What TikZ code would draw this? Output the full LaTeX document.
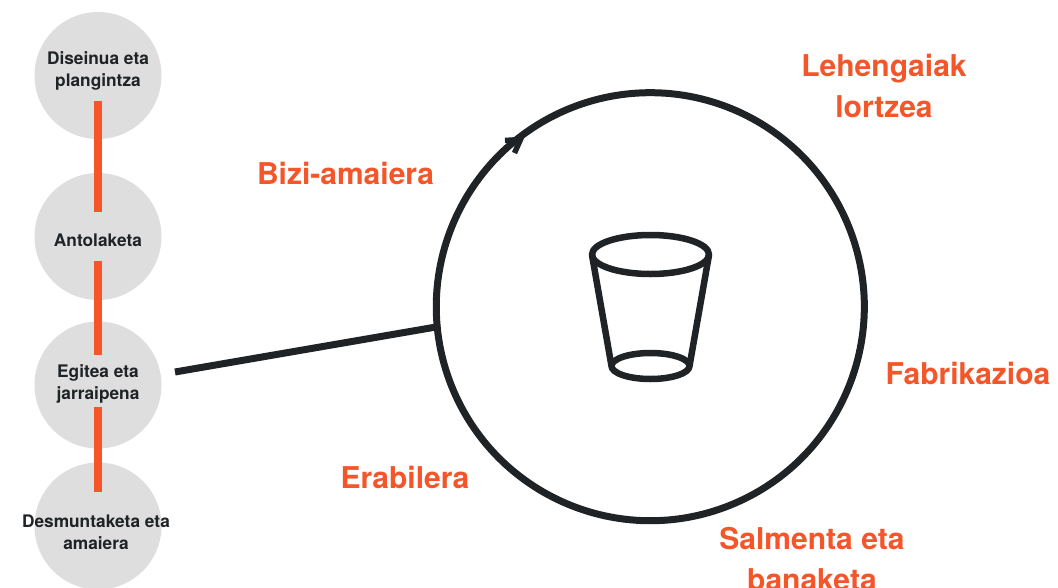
\documentclass[tikz,border=0pt]{standalone}
\usepackage{fontspec}
\setmainfont{TeX Gyre Heros}
\definecolor{ink}{HTML}{1F2326}
\definecolor{orng}{HTML}{F4562A}
\definecolor{disc}{HTML}{DEDEDE}
\tikzset{
  phase/.style={circle,fill=disc,minimum size=127pt,inner sep=0pt},
  phasetext/.style={text=ink,font=\fontsize{17.3}{22}\selectfont\bfseries,align=center,inner sep=0pt},
  stage/.style={text=orng,font=\fontsize{30}{41}\selectfont\bfseries,align=center,inner sep=0pt},
  bar/.style={draw=orng,line width=7.5pt},
  heavy/.style={draw=ink,line width=7pt},
  cup/.style={draw=ink,line width=6.5pt,line join=round}
}
\begin{document}
\begin{tikzpicture}[x=1pt,y=-1pt]
\useasboundingbox (0,0) rectangle (1058,587);
\clip (0,0) rectangle (1058,587);
\node[phase] (c1) at (98,75.5) {};
\node[phase] (c2) at (98,236.5) {};
\node[phase] (c3) at (98,385) {};
\node[phase] (c4) at (98,526) {};
\coordinate (b1a) at (98,101); \coordinate (b1b) at (98,212);
\coordinate (b2a) at (98,261); \coordinate (b2b) at (98,355);
\coordinate (b3a) at (98,407); \coordinate (b3b) at (98,492);
\draw[bar] (b1a) -- (b1b);
\draw[bar] (b2a) -- (b2b);
\draw[bar] (b3a) -- (b3b);
\node[phasetext] (t1) at (98,70.5) {Diseinua eta\\plangintza};
\node[phasetext] (t2) at (98,240) {Antolaketa};
\node[phasetext] (t3) at (98,384) {Egitea eta\\jarraipena};
\node[phasetext] (t4) at (96,532.5) {Desmuntaketa eta\\amaiera};
% life-cycle ring
\coordinate (ringstart) at (566,110);
\draw[heavy] (ringstart) arc[start angle=-113.2,end angle=-486.0,radius=214];
\coordinate (tip) at (525,136);
\draw[draw=ink,line width=5.5pt,miter limit=10] (505,140.5) -- (520.5,139.5) -- (514.5,153);
\coordinate (ringleft) at (436,327);
\coordinate (from) at (175,372);
\draw[heavy] (from) -- (ringleft);
% cup
\coordinate (topc) at (650.5,254.5);
\coordinate (botc) at (650.5,366);
\draw[cup] (topc) ellipse[x radius=58.5,y radius=19.5];
\draw[cup] (botc) ellipse[x radius=39,y radius=13];
\draw[cup] (592,255) -- (611.5,366);
\draw[cup] (709,255) -- (689.5,366);
% stages
\node[stage] (s1) at (884,85.5) {Lehengaiak\\lortzea};
\node[stage] (s2) at (968,373) {Fabrikazioa};
\node[stage] (s3) at (812,559) {Salmenta eta\\banaketa};
\node[stage] (s4) at (405,477) {Erabilera};
\node[stage] (s5) at (345.5,173) {Bizi-amaiera};
\end{tikzpicture}
\end{document}
